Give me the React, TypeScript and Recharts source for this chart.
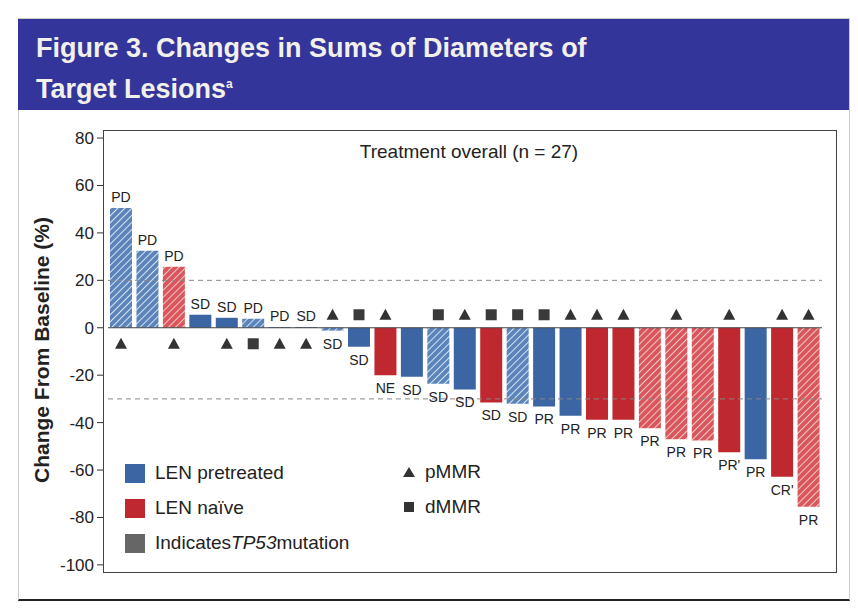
import { BarChart, Bar, XAxis, YAxis, ReferenceLine, Cell, LabelList } from "recharts";

const patients = Array.from({ length: 27 }, (_, i) => `P${i + 1}`);
const change = [50.5, 32.5, 25.7, 5.5, 4.2, 3.8, 0.3, 0.3, -1.2, -8, -20, -20.7, -23.6, -26, -31.5, -32, -33.2, -37.1, -38.8, -38.8, -42.4, -47, -47.5, -52.5, -55.4, -62.8, -75.5];
const group = ["pre", "pre", "naive", "pre", "pre", "pre", "pre", "pre", "pre", "pre", "naive", "pre", "pre", "pre", "naive", "pre", "pre", "pre", "naive", "naive", "naive", "naive", "naive", "naive", "pre", "naive", "naive"];
const tp53 = [1, 1, 1, 0, 0, 1, 0, 0, 1, 0, 0, 0, 1, 0, 0, 1, 0, 0, 0, 0, 1, 1, 1, 0, 0, 0, 1];
const response = ["PD", "PD", "PD", "SD", "SD", "PD", "PD", "SD", "SD", "SD", "NE", "SD", "SD", "SD", "SD", "SD", "PR", "PR", "PR", "PR", "PR", "PR", "PR", "PR'", "PR", "CR'", "PR"];
const mmr = ["p", "", "p", "", "p", "d", "p", "p", "p", "d", "p", "", "d", "p", "d", "d", "d", "p", "p", "p", "", "p", "", "p", "", "p", "p"];
const yTicks = [-100, -80, -60, -40, -20, 0, 20, 40, 60, 80];

const BLUE = "#3b66a3";
const RED = "#c0282f";
const FONT = "'Liberation Sans Narrow', 'Liberation Sans', Arial, sans-serif";

const data = patients.map((p, i) => ({ p, value: change[i] }));

const fillFor = (i: number) =>
  tp53[i] ? (group[i] === "pre" ? "url(#hatchBlue)" : "url(#hatchRed)") : group[i] === "pre" ? BLUE : RED;

function Tick(props: any) {
  const { y, payload } = props;
  return (
    <g>
      <line x1={97} x2={103} y1={y} y2={y} stroke="#333" />
      <text x={94} y={y + 6} textAnchor="end" fontSize={17} fill="#222" fontFamily={FONT}>
        {payload.value}
      </text>
    </g>
  );
}

function Annot(props: any) {
  const { x, y, width, height, index } = props;
  const v = change[index];
  const cx = x + width / 2;
  const top = Math.min(y, y + height);
  const bottom = Math.max(y, y + height);
  const zeroY = v >= 0 ? bottom : top;
  const labelY = v >= 0 ? top - 6 : bottom + 18;
  const my = v >= 0 ? zeroY + 16 : zeroY - 13;
  const m = mmr[index];
  return (
    <g>
      <text x={cx} y={labelY} textAnchor="middle" fontSize={14} fill="#222" fontFamily={FONT}>
        {response[index]}
      </text>
      {m === "p" && <polygon points={`${cx - 6},${my + 5} ${cx + 6},${my + 5} ${cx},${my - 6}`} fill="#333" />}
      {m === "d" && <rect x={cx - 5.5} y={my - 5.5} width={11} height={11} fill="#3a3a3a" />}
    </g>
  );
}

export default function App() {
  return (
    <div style={{ position: "absolute", left: 0, top: 0, width: 858, height: 612, background: "#fff", fontFamily: FONT }}>
      <div style={{ position: "absolute", left: 18, top: 18, width: 830, height: 580, border: "1px solid #ccc", borderBottom: "2px solid #222" }} />
      <div style={{ position: "absolute", left: 18, top: 19, width: 831, height: 91, background: "#33359a" }} />
      <div style={{ position: "absolute", left: 36, top: 30, color: "#f2f0ea", fontWeight: "bold", fontSize: 27, lineHeight: "36px" }}>
        Figure 3. Changes in Sums of Diameters of
        <br />
        Target Lesions<sup style={{ fontSize: 12 }}>a</sup>
      </div>
      <div style={{ position: "absolute", left: 103, top: 130, width: 732, height: 441, border: "1px solid #444" }} />
      <div style={{ position: "absolute", left: 0, top: 0 }}>
        <BarChart width={858} height={612} data={data} margin={{ top: 130, right: 36, bottom: 40, left: 8 }}>
          <defs>
            <pattern id="hatchBlue" patternUnits="userSpaceOnUse" width="5" height="5" patternTransform="rotate(45)">
              <rect width="5" height="5" fill="#5b84bb" />
              <line x1="0" y1="0" x2="0" y2="5" stroke="#d7e4f2" strokeWidth="2" />
            </pattern>
            <pattern id="hatchRed" patternUnits="userSpaceOnUse" width="5" height="5" patternTransform="rotate(45)">
              <rect width="5" height="5" fill="#d9575c" />
              <line x1="0" y1="0" x2="0" y2="5" stroke="#f2c8c8" strokeWidth="2" />
            </pattern>
          </defs>
          <XAxis dataKey="p" hide />
          <YAxis
            domain={[-103, 83.4]}
            ticks={yTicks}
            width={100}
            axisLine={false}
            tickLine={false}
            tick={<Tick />}
            allowDataOverflow
          />
          <ReferenceLine y={20} stroke="#888" strokeDasharray="5 4" />
          <ReferenceLine y={-30} stroke="#888" strokeDasharray="5 4" />
          <ReferenceLine y={0} stroke="#444" />
          <Bar dataKey="value" barSize={22} isAnimationActive={false}>
            {data.map((d, i) => (
              <Cell key={d.p} fill={fillFor(i)} />
            ))}
            <LabelList dataKey="value" content={<Annot />} />
          </Bar>
        </BarChart>
      </div>
      <div style={{ position: "absolute", left: 103, width: 732, top: 141, textAlign: "center", fontSize: 19, color: "#222" }}>
        Treatment overall (n = 27)
      </div>
      <div
        style={{
          position: "absolute",
          left: 42,
          top: 350,
          transform: "translate(-50%, -50%) rotate(-90deg)",
          whiteSpace: "nowrap",
          fontWeight: "bold",
          fontSize: 21,
          color: "#222",
        }}
      >
        Change From Baseline (%)
      </div>
      {[
        { c: BLUE, t: <>LEN pretreated</>, y: 462 },
        { c: RED, t: <>LEN naïve</>, y: 497 },
        { c: "#666", t: <>Indicates <i>TP53</i> mutation</>, y: 532 },
      ].map((r, i) => (
        <div key={i} style={{ position: "absolute", left: 125, top: r.y, display: "flex", alignItems: "center", fontSize: 19, color: "#222" }}>
          <div style={{ width: 20, height: 19, background: r.c, marginRight: 10 }} />
          {r.t}
        </div>
      ))}
      <div style={{ position: "absolute", left: 402, top: 461, display: "flex", alignItems: "center", fontSize: 19, color: "#222" }}>
        <svg width={14} height={14} style={{ marginRight: 9 }}>
          <polygon points="1,12 13,12 7,2" fill="#333" />
        </svg>
        pMMR
      </div>
      <div style={{ position: "absolute", left: 402, top: 496, display: "flex", alignItems: "center", fontSize: 19, color: "#222" }}>
        <svg width={14} height={14} style={{ marginRight: 9 }}>
          <rect x={2} y={2} width={10} height={10} fill="#333" />
        </svg>
        dMMR
      </div>
    </div>
  );
}
